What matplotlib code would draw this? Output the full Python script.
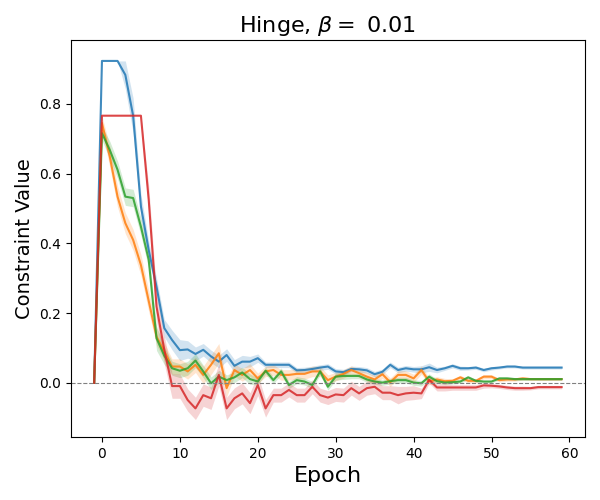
import matplotlib
matplotlib.use("Agg")
import matplotlib.pyplot as plt
import numpy as np

epochs = list(range(-1, 60))

blue = [0.0,
        0.923, 0.923, 0.923, 0.883, 0.766, 0.506, 0.381, 0.276, 0.157, 0.123,
        0.094, 0.096, 0.083, 0.095, 0.076, 0.061, 0.080, 0.049, 0.061, 0.061,
        0.071, 0.052, 0.052, 0.052, 0.052, 0.036, 0.037, 0.040, 0.044, 0.047,
        0.033, 0.031, 0.040, 0.039, 0.036, 0.025, 0.032, 0.052, 0.037, 0.042,
        0.039, 0.039, 0.045, 0.037, 0.042, 0.049, 0.042, 0.042, 0.044, 0.037,
        0.042, 0.044, 0.047, 0.047, 0.044, 0.044, 0.044, 0.044, 0.044, 0.044]
orange = [0.0,
          0.745, 0.649, 0.534, 0.458, 0.410, 0.338, 0.235, 0.133, 0.090, 0.047,
          0.047, 0.033, 0.052, 0.023, 0.052, 0.085, -0.015, 0.037, 0.023, 0.037,
          0.013, 0.033, 0.037, 0.023, 0.023, 0.026, 0.026, 0.033, 0.033, 0.008,
          0.018, 0.026, 0.037, 0.028, 0.018, 0.010, 0.025, 0.002, 0.023, 0.023,
          0.013, 0.037, 0.004, 0.010, 0.005, 0.006, 0.016, 0.006, 0.006, 0.018,
          0.018, 0.008, 0.010, 0.010, 0.013, 0.011, 0.011, 0.011, 0.011, 0.011]
green = [0.0,
         0.716, 0.668, 0.611, 0.534, 0.530, 0.448, 0.353, 0.128, 0.078, 0.042,
         0.035, 0.042, 0.064, 0.033, -0.001, 0.018, 0.008, 0.016, 0.030, 0.011,
         0.004, 0.035, 0.008, 0.033, -0.006, 0.008, 0.004, -0.006, 0.033, -0.011,
         0.018, 0.020, 0.020, 0.020, 0.010, 0.004, 0.001, 0.005, 0.008, 0.008,
         0.001, -0.001, 0.018, 0.005, 0.001, 0.002, 0.004, 0.016, 0.006, 0.004,
         0.004, 0.013, 0.013, 0.011, 0.011, 0.011, 0.011, 0.011, 0.011, 0.011]
red = [0.0,
       0.766, 0.766, 0.766, 0.766, 0.766, 0.766, 0.525, 0.219, 0.095, -0.009,
       -0.009, -0.049, -0.073, -0.035, -0.044, 0.023, -0.073, -0.044, -0.030, -0.058,
       -0.006, -0.073, -0.035, -0.035, -0.020, -0.035, -0.035, -0.011, -0.035, -0.042,
       -0.033, -0.035, -0.015, -0.030, -0.015, -0.011, -0.028, -0.028, -0.035, -0.030,
       -0.028, -0.030, 0.009, -0.013, -0.013, -0.013, -0.013, -0.013, -0.013, -0.007,
       -0.008, -0.010, -0.013, -0.015, -0.015, -0.015, -0.012, -0.012, -0.012, -0.012]

blue_spread = [0.0,
               0.0, 0.0, 0.0, 0.04, 0.05, 0.035, 0.025, 0.025, 0.025, 0.028,
               0.03, 0.025, 0.02, 0.018, 0.018, 0.018, 0.018, 0.018, 0.018, 0.015,
               0.012, 0.008, 0.008, 0.008, 0.008, 0.008, 0.008, 0.008, 0.008, 0.008,
               0.008, 0.008, 0.008, 0.008, 0.008, 0.008, 0.008, 0.008, 0.008, 0.008,
               0.008, 0.01, 0.012, 0.008, 0.006, 0.006, 0.006, 0.005, 0.005, 0.005,
               0.005, 0.004, 0.004, 0.004, 0.004, 0.004, 0.004, 0.004, 0.004, 0.004]
orange_spread = [0.0,
                 0.02, 0.03, 0.03, 0.03, 0.03, 0.03, 0.03, 0.025, 0.025, 0.022,
                 0.022, 0.022, 0.022, 0.025, 0.028, 0.028, 0.025, 0.018, 0.018, 0.018,
                 0.015, 0.015, 0.015, 0.015, 0.015, 0.015, 0.015, 0.015, 0.015, 0.015,
                 0.012, 0.012, 0.012, 0.012, 0.012, 0.012, 0.012, 0.012, 0.012, 0.012,
                 0.012, 0.012, 0.01, 0.008, 0.008, 0.006, 0.006, 0.006, 0.006, 0.006,
                 0.006, 0.005, 0.005, 0.005, 0.005, 0.004, 0.004, 0.004, 0.004, 0.004]
green_spread = [0.0,
                0.02, 0.025, 0.025, 0.025, 0.025, 0.025, 0.025, 0.035, 0.025, 0.02,
                0.02, 0.02, 0.02, 0.018, 0.018, 0.018, 0.015, 0.015, 0.015, 0.015,
                0.01, 0.01, 0.01, 0.01, 0.01, 0.01, 0.01, 0.01, 0.01, 0.01,
                0.01, 0.01, 0.008, 0.008, 0.008, 0.008, 0.008, 0.008, 0.008, 0.008,
                0.008, 0.008, 0.008, 0.006, 0.006, 0.005, 0.005, 0.005, 0.004, 0.004,
                0.004, 0.004, 0.004, 0.004, 0.004, 0.004, 0.004, 0.004, 0.004, 0.004]
red_spread = [0.0,
              0.0, 0.0, 0.0, 0.0, 0.0, 0.0, 0.04, 0.04, 0.04, 0.035,
              0.035, 0.032, 0.032, 0.032, 0.032, 0.032, 0.032, 0.03, 0.03, 0.03,
              0.03, 0.025, 0.02, 0.02, 0.02, 0.02, 0.02, 0.02, 0.02, 0.02,
              0.02, 0.02, 0.02, 0.02, 0.02, 0.02, 0.02, 0.02, 0.025, 0.02,
              0.02, 0.015, 0.01, 0.01, 0.01, 0.008, 0.008, 0.008, 0.008, 0.008,
              0.006, 0.006, 0.006, 0.006, 0.006, 0.005, 0.005, 0.005, 0.005, 0.005]

series = [(blue, blue_spread, "tab:blue"),
          (orange, orange_spread, "tab:orange"),
          (green, green_spread, "tab:green"),
          (red, red_spread, "tab:red")]

fig, ax = plt.subplots(figsize=(6, 5), dpi=100)
fig.subplots_adjust(left=0.118, right=0.975, top=0.92, bottom=0.126)

x = np.array(epochs)
for vals, spr, col in series:
    v = np.array(vals)
    s = np.array(spr)
    ax.fill_between(x, v - s, v + s, color=col, alpha=0.2, linewidth=0)
    ax.plot(x, v, color=col, linewidth=1.5, alpha=0.85)

ax.axhline(0, color="gray", linestyle="--", linewidth=0.8)
ax.set_xlim(-4, 62)
ax.set_ylim(-0.155, 0.983)
ax.set_xlabel("Epoch", fontsize=16)
ax.set_ylabel("Constraint Value", fontsize=14)
ax.set_title("Hinge, $\\beta =$ 0.01", fontsize=16)

fig.savefig("out.png", dpi=100)
